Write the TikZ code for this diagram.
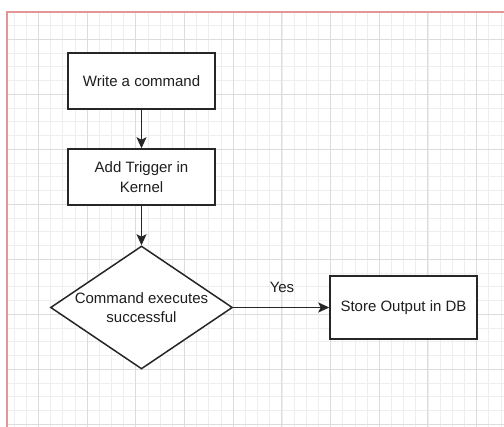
\documentclass[tikz,border=0pt]{standalone}
\usepackage{fontspec}
\setmainfont{Liberation Sans}
\usetikzlibrary{shapes.geometric,arrows.meta}
\definecolor{gridminor}{RGB}{238,238,238}
\definecolor{gridmajor}{RGB}{220,220,220}
\definecolor{framec}{RGB}{228,150,150}
\definecolor{textc}{RGB}{30,30,30}
\begin{document}
\begin{tikzpicture}[x=1pt,y=-1pt,
  lbl/.style={font=\fontsize{15}{19.5}\selectfont, text=textc, align=center, inner sep=0pt},
  box/.style={lbl, draw=black!85, line width=1.5pt, fill=white, minimum width=147pt, minimum height=56pt},
  decision/.style={diamond, draw=black!85, line width=1.5pt, fill=white, minimum width=182pt, minimum height=123pt, inner sep=0pt},
  arr/.style={draw=black!85, line width=1.5pt, -{Stealth[length=11pt,width=10pt,inset=2.5pt]}}
]
\useasboundingbox (0,0) rectangle (504,427);
\fill[white] (0,0) rectangle (504,427);
% grid
\begin{scope}
\clip (7,12) rectangle (504,427);
\foreach \i in {-3,...,40} {
  \pgfmathsetmacro\xx{38.5+12.17*\i}
  \draw[gridminor, line width=0.8pt] (\xx,12) -- (\xx,427);
}
\foreach \j in {-2,...,30} {
  \pgfmathsetmacro\yy{39.3+13.75*\j}
  \draw[gridminor, line width=0.8pt] (7,\yy) -- (504,\yy);
}
\foreach \i in {0,...,10} {
  \pgfmathsetmacro\xx{38.5+48.68*\i}
  \draw[gridmajor, line width=0.9pt] (\xx,12) -- (\xx,427);
}
\foreach \j in {0,...,7} {
  \pgfmathsetmacro\yy{39.3+55*\j}
  \draw[gridmajor, line width=0.9pt] (7,\yy) -- (504,\yy);
}
\end{scope}
\draw[framec, line width=1.2pt] (7,427) -- (7,12) -- (504,12);
% nodes
\node[box] (write) at (141.5,81) {Write a command};
\node[box] (trigger) at (141.5,177) {Add Trigger in\\Kernel};
\node[decision] (exec) at (141.5,307.5) {};
\node[lbl] (exectext) at (exec.center) {Command executes\\successful};
\node[box, minimum height=63pt] (store) at (403.5,307.5) {Store Output in DB};
\node[lbl] (yes) at (282,287) {Yes};
% connectors
\draw[arr] (write) -- (trigger);
\draw[arr] (trigger) -- (exec);
\draw[arr] (exec) -- (store);
\end{tikzpicture}
\end{document}
